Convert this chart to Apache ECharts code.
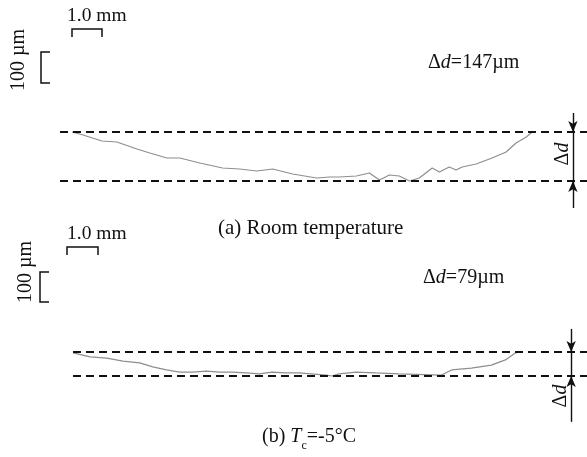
<!DOCTYPE html>
<html>
<head>
<meta charset="utf-8">
<script src="https://cdn.jsdelivr.net/npm/echarts@6/dist/echarts.min.js"></script>
<style>
  html, body { margin: 0; background: #fff; }
  #chart { width: 587px; height: 457px; }
</style>
</head>
<body>
<div id="chart"></div>
<script>
// (a) room temperature: distance along sample (mm), surface height above lowest point (µm)
const xA = [0, 0.37, 1.0, 1.5, 2.17, 2.6, 3.17, 3.6, 4.27, 5.03, 5.6, 6.17, 6.7, 7.37, 8.17, 8.6, 8.93,
  9.5, 9.93, 10.27, 10.6, 10.93, 11.27, 11.6, 12.03, 12.27, 12.6, 12.83, 13.03, 13.5, 14.03, 14.5, 14.83, 15.17, 15.37]
const hA = [147, 138, 120, 117, 96, 84, 69, 69, 54, 39, 36, 30, 36, 21, 9, 12, 12,
  15, 24, 3, 18, 15, 0, 9, 39, 27, 42, 33, 42, 51, 69, 87, 114, 132, 147]
const deltaA = 147

// (b) Tc = -5 °C
const xB = [0, 0.57, 1.13, 1.67, 2.23, 2.67, 3.13, 3.57, 4.0, 4.47, 4.9, 5.33, 5.8, 6.23, 6.67, 7.13, 7.57,
  8.47, 8.67, 8.9, 9.47, 10.13, 10.9, 12.33, 12.67, 13.33, 14.0, 14.47, 14.8, 15.0]
const hB = [76, 63, 59, 49, 43, 30, 20, 13, 13, 16, 13, 13, 10, 7, 13, 10, 10,
  3, 0, 7, 13, 10, 7, 3, 20, 26, 36, 53, 76, 79]
const deltaB = 79

const serif = '"Liberation Serif", "Times New Roman", serif'
const pxPerMm = 30

function zip(xs, ys) {
  return xs.map((x, i) => [x, ys[i]])
}

// one panel = the profile + dashed limits + Δd arrows
function panel(idx, data, delta, arrowX, arrowTop, arrowBottom) {
  return {
    type: 'line',
    xAxisIndex: idx,
    yAxisIndex: idx,
    data,
    showSymbol: false,
    silent: true,
    clip: false,
    lineStyle: { color: '#8e8e8e', width: 1.2 },
    markLine: {
      silent: true,
      symbol: ['none', 'none'],
      label: { show: false },
      lineStyle: { color: '#111', width: 1.4, type: 'solid' },
      data: [
        { yAxis: delta, lineStyle: { type: [8, 5], width: 2, color: '#111' } },
        { yAxis: 0, lineStyle: { type: [8, 5], width: 2, color: '#111' } },
        [{ coord: [arrowX, arrowTop] }, { coord: [arrowX, delta], symbol: 'arrow', symbolSize: [7, 11] }],
        [{ coord: [arrowX, delta] }, { coord: [arrowX, 0] }],
        [{ coord: [arrowX, arrowBottom] }, { coord: [arrowX, 0], symbol: 'arrow', symbolSize: [7, 11] }],
      ],
    },
  }
}

const umPxA = 3
const umPxB = deltaB / 24
const yA = [-85, 210]
const yB = [-160, 160]
const xRangeA = [-0.4, 17.2]
const xRangeB = [0, 17.2]

const chart = echarts.init(document.getElementById('chart'))

function txt(x, y, text, size, opts) {
  return {
    type: 'text',
    x,
    y,
    rotation: (opts && opts.rotation) || 0,
    silent: true,
    style: Object.assign({
      text,
      fill: '#111',
      fontSize: size,
      fontFamily: serif,
      align: 'left',
      verticalAlign: 'middle',
    }, opts && opts.style),
  }
}

function bracket(points) {
  return {
    type: 'polyline',
    silent: true,
    shape: { points },
    style: { stroke: '#111', lineWidth: 1.5, fill: null },
  }
}

const deltaRich = {
  i: { fontStyle: 'italic', fontSize: 20, fontFamily: serif },
}

chart.setOption({
  animation: false,
  backgroundColor: '#fff',
  grid: [
    { left: 60, top: 181 - yA[1] / umPxA, width: (xRangeA[1] - xRangeA[0]) * pxPerMm, height: (yA[1] - yA[0]) / umPxA },
    { left: 73, top: 376 - yB[1] / umPxB, width: (xRangeB[1] - xRangeB[0]) * pxPerMm, height: (yB[1] - yB[0]) / umPxB },
  ],
  xAxis: [
    { type: 'value', gridIndex: 0, min: xRangeA[0], max: xRangeA[1], show: false },
    { type: 'value', gridIndex: 1, min: xRangeB[0], max: xRangeB[1], show: false },
  ],
  yAxis: [
    { type: 'value', gridIndex: 0, min: yA[0], max: yA[1], show: false },
    { type: 'value', gridIndex: 1, min: yB[0], max: yB[1], show: false },
  ],
  series: [
    panel(0, zip(xA, hA), deltaA, 16.73, 204, -81),
    panel(1, zip(xB, hB), deltaB, 16.67, 155, -151),
  ],
  graphic: [
    // scale bars, panel (a)
    txt(67, 16, '1.0 mm', 19.5),
    bracket([[72, 37], [72, 29], [102, 29], [102, 37]]),
    txt(19, 60, '100 µm', 20, { rotation: Math.PI / 2, style: { align: 'center' } }),
    bracket([[50, 52], [41, 52], [41, 83], [50, 83]]),
    txt(428, 63, 'Δ{i|d}=147µm', 20, { style: { rich: deltaRich } }),
    txt(563, 154, 'Δ{i|d}', 20, { rotation: Math.PI / 2, style: { align: 'center', rich: deltaRich } }),
    txt(218, 228, '(a) Room temperature', 21),

    // scale bars, panel (b)
    txt(67, 234, '1.0 mm', 19.5),
    bracket([[67, 255], [67, 247], [98, 247], [98, 255]]),
    txt(26, 272, '100 µm', 20, { rotation: Math.PI / 2, style: { align: 'center' } }),
    bracket([[49, 272], [40, 272], [40, 302], [49, 302]]),
    txt(423, 278, 'Δ{i|d}=79µm', 20, { style: { rich: deltaRich } }),
    txt(561, 396, 'Δ{i|d}', 20, { rotation: Math.PI / 2, style: { align: 'center', rich: deltaRich } }),
    txt(262, 437, '(b) {t|T}{s|c}=-5°C', 20, {
      style: {
        lineHeight: 30,
        rich: {
          t: { fontStyle: 'italic', fontSize: 20, fontFamily: serif, lineHeight: 30 },
          s: { fontSize: 12, fontFamily: serif, lineHeight: 12, verticalAlign: 'bottom' },
        },
      },
    }),
  ],
})
</script>
</body>
</html>
